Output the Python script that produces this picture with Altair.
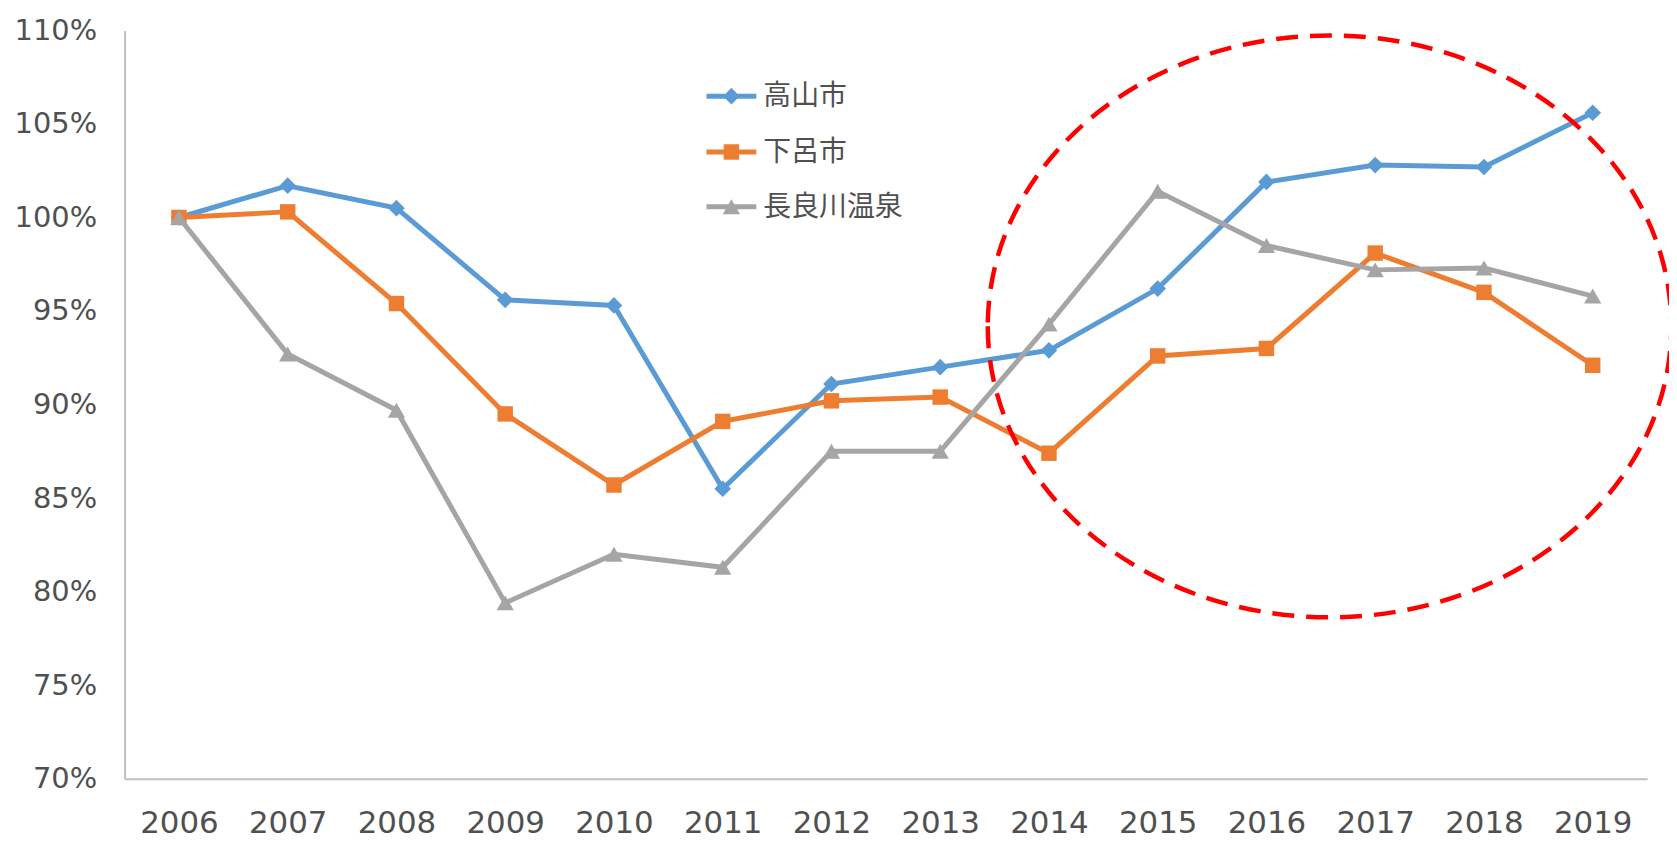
import altair as alt
import pandas as pd

years = list(range(2006, 2020))
series_names = ["高山市", "下呂市", "長良川温泉"]
takayama = [1.000, 1.017, 1.005, 0.956, 0.953, 0.855, 0.911, 0.920, 0.929, 0.962, 1.019, 1.028, 1.027, 1.056]
gero = [1.000, 1.003, 0.954, 0.895, 0.857, 0.891, 0.902, 0.904, 0.874, 0.926, 0.930, 0.981, 0.960, 0.921]
nagara = [1.000, 0.927, 0.897, 0.794, 0.820, 0.813, 0.875, 0.875, 0.943, 1.014, 0.985, 0.972, 0.973, 0.958]
y_ticks = [0.70, 0.75, 0.80, 0.85, 0.90, 0.95, 1.00, 1.05, 1.10]

# annotation ellipse (data coordinates of its centre)
ellipse_center_year = 2016.58
ellipse_center_val = 0.9418

colors = ["#5B9BD5", "#ED7D31", "#A5A5A5"]
shapes = ["diamond", "square", "triangle-up"]
sizes = [280, 240, 300]
values = [takayama, gero, nagara]

W, H = 1528, 751
xscale = alt.Scale(domain=[2005.5, 2019.5], nice=False, zero=False)
yscale = alt.Scale(domain=[0.70, 1.10], nice=False, zero=False)

FONT = "DejaVu Sans"
TXT = "#505050"

xaxis = alt.Axis(values=years, format="d", title=None, grid=False, ticks=False,
                 domain=True, domainColor="#BFBFBF", domainWidth=2,
                 labelFont=FONT, labelFontSize=31, labelColor=TXT,
                 labelPadding=30, labelFlush=False)
yaxis = alt.Axis(values=y_ticks, format=".0%", title=None, grid=False, ticks=False,
                 domain=True, domainColor="#BFBFBF", domainWidth=2,
                 labelFont=FONT, labelFontSize=29, labelColor=TXT,
                 labelPadding=28, labelFlush=False)
xenc = alt.X("year:Q", scale=xscale, axis=xaxis)
yenc = alt.Y("value:Q", scale=yscale, axis=yaxis)

layers = []
for i, (name, vals) in enumerate(zip(series_names, values)):
    df = pd.DataFrame({"year": years, "value": vals, "series": name})
    base = alt.Chart(df)
    line = base.mark_line(color=colors[i], strokeWidth=5).encode(x=xenc, y=yenc)
    pts = base.mark_point(shape=shapes[i], size=sizes[i], filled=True, opacity=1,
                          color=colors[i]).encode(x=xenc, y=yenc)
    layers += [line, pts]

# dashed red ellipse annotation
rx, ry = 343, 292
ellipse_path = f"M -1 0 A 1 {ry/rx:.4f} 0 1 0 1 0 A 1 {ry/rx:.4f} 0 1 0 -1 0 Z"
ellipse = alt.Chart(pd.DataFrame({"a": [0]})).mark_point(
    shape=ellipse_path, size=(2 * rx) ** 2, filled=False, stroke="#FF0000",
    strokeWidth=4.5, strokeDash=[22, 12], opacity=1
).encode(x=alt.datum(ellipse_center_year), y=alt.datum(ellipse_center_val))
layers.append(ellipse)

# manual legend (line + marker + label)
leg_x0, leg_x1, leg_tx = 584, 634, 641
leg_rows = [66, 122, 177]
for i, name in enumerate(series_names):
    yy = leg_rows[i]
    one = alt.Chart(pd.DataFrame({"series": [name]}))
    layers.append(one.mark_rule(color=colors[i], strokeWidth=5).encode(
        x=alt.value(leg_x0), x2=alt.value(leg_x1), y=alt.value(yy)))
    layers.append(one.mark_point(shape=shapes[i], size=sizes[i], filled=True, opacity=1,
                                 color=colors[i]).encode(
        x=alt.value((leg_x0 + leg_x1) / 2), y=alt.value(yy)))
    layers.append(one.mark_text(align="left", baseline="middle", font="Noto Sans CJK JP",
                                fontSize=28, color=TXT).encode(
        x=alt.value(leg_tx), y=alt.value(yy + 1), text="series:N"))

chart = alt.layer(*layers).properties(
    width=W, height=H,
    background="white",
    autosize=alt.AutoSizeParams(type="none"),
    padding={"left": 117, "top": 21, "right": 22, "bottom": 60},
).configure_view(stroke=None)

chart.save("out.html", embed_options={"renderer": "svg", "actions": False})
